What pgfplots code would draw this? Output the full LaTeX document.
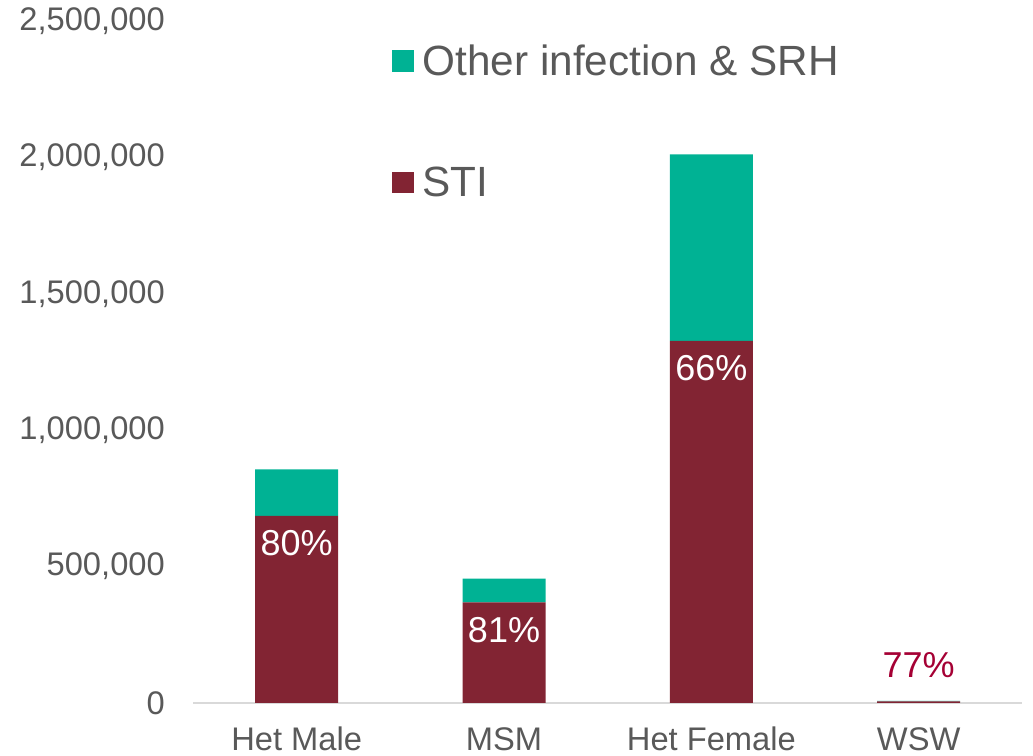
\documentclass[border=0pt]{standalone}
\usepackage{fontspec}
\setmainfont{Liberation Sans}
\usepackage{pgfplots}
\pgfplotsset{compat=1.18}
\definecolor{teal2}{HTML}{00B294}
\definecolor{maroon2}{HTML}{822433}
\definecolor{txtgray}{HTML}{595959}
\definecolor{lbred}{RGB}{165,0,52}
\definecolor{axgray}{HTML}{D9D9D9}

\begin{document}
\begin{tikzpicture}
\path[use as bounding box] (-144.75pt,-39.2pt) rectangle (629.75pt,527pt);
\begin{axis}[
    at={(0,0)}, anchor=south west,
    scale only axis,
    width=621.75pt, height=511.1pt,
    ybar stacked, bar width=62.25pt,
    xmin=-0.5, xmax=3.5,
    ymin=0, ymax=2500000,
    xtick={0,1,2,3},
    xticklabels={Het Male, MSM, Het Female, WSW},
    ytick={0,500000,1000000,1500000,2000000,2500000},
    scaled y ticks=false,
    /pgf/number format/fixed,
    /pgf/number format/1000 sep={,},
    /pgf/number format/assume math mode=true,
    major tick length=0pt,
    axis x line*=bottom, axis y line*=left,
    x axis line style={draw=axgray, line width=1.5pt, -},
    y axis line style={draw=none},
    tick label style={font=\fontsize{24.5}{29}\selectfont, text=txtgray, inner sep=0pt},
    xticklabel style={anchor=base, yshift=-35.5pt},
    yticklabel style={anchor=east, xshift=-21pt},
    legend style={at={(rel axis cs:0.24,0.966)}, anchor=north west, draw=none, fill=none,
        font=\fontsize{31.7}{38}\selectfont, text=txtgray, row sep=67pt,
        inner sep=0pt, nodes={inner sep=0pt, text=txtgray}},
    legend cell align=left,
    reverse legend,
    legend image code/.code={\fill[#1] (0pt,-8.1pt) rectangle (16.3pt,8.1pt);},
    after end axis/.code={
        \node[font=\fontsize{27}{32}\selectfont, text=white, yshift=-20.6pt] at (axis cs:0,686000) {80\%};
        \node[font=\fontsize{27}{32}\selectfont, text=white, yshift=-20.6pt] at (axis cs:1,369000) {81\%};
        \node[font=\fontsize{27}{32}\selectfont, text=white, yshift=-20.6pt] at (axis cs:2,1328000) {66\%};
        \node[font=\fontsize{27}{32}\selectfont, text=lbred, yshift=27pt] at (axis cs:3,7000) {77\%};
    },
]
\addplot[fill=maroon2, draw=none] coordinates {(0,686000) (1,369000) (2,1328000) (3,5400)};
\addplot[fill=teal2, draw=none] coordinates {(0,170000) (1,87000) (2,684000) (3,1600)};
\legend{\hspace{6.5pt}STI, \hspace{6.5pt}Other infection \& SRH}
\end{axis}
\end{tikzpicture}
\end{document}
